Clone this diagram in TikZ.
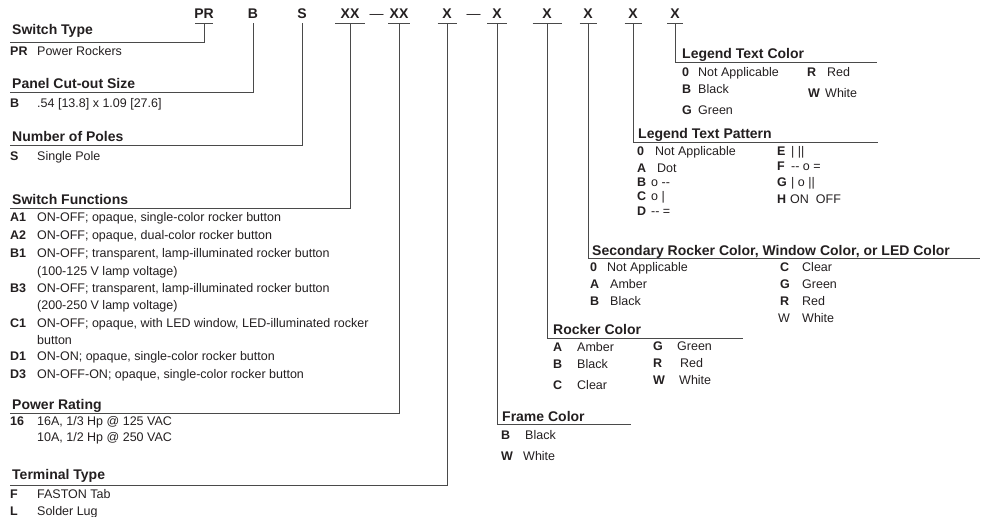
\documentclass[tikz,border=0pt]{standalone}
\usepackage{fontspec}
\setmainfont{Liberation Sans}
\definecolor{ink}{HTML}{231F20}
\definecolor{rule}{HTML}{4A4A4A}
% key in bold, set in a box of given width
\newcommand{\kb}[2][27]{\makebox[#1pt][l]{\bfseries #2}}
\begin{document}
\begin{tikzpicture}[x=1pt,y=-1pt,
    code/.style = {font=\fontsize{14}{16}\selectfont\bfseries, text=ink,
                   inner xsep=0pt, inner ysep=5pt, text depth=0pt, anchor=base},
    head/.style = {font=\fontsize{14}{16}\selectfont\bfseries, text=ink,
                   inner sep=0pt, anchor=base west},
    item/.style = {font=\fontsize{12.5}{15}\selectfont, text=ink,
                   inner sep=0pt, anchor=base west},
    lead/.style = {draw=rule, line width=0.8pt}]
\useasboundingbox (0,0) rectangle (986,517);

% part number codes
\foreach \n/\x/\t/\w in {PR/204/PR/9, B/253/B/0, S/302/S/0, XXa/350/XX/15,
        XXb/399/XX/11, Xa/447/X/9.5, Xb/497/X/10, Xc/547/X/14.5,
        Xd/588/X/8.5, Xe/633/X/8.5, Xf/675/X/8}{
    \node[code] (c\n) at (\x,18) {\t};
    \draw[lead] ([xshift=-\w]c\n.south) -- ([xshift=\w]c\n.south);
}
\node[code, font=\fontsize{14}{16}\selectfont] (dA) at (376.5,18) {—};
\node[code, font=\fontsize{14}{16}\selectfont] (dB) at (473.5,18) {—};

% left column
\node[head] (hST) at (12,34) {Switch Type};
\coordinate (eST) at (10,42);
\draw[lead] (cPR.south) |- (eST);
\node[item] (iPR) at (10,55) {\kb{PR}Power Rockers};

\node[head] (hPC) at (12,88) {Panel Cut-out Size};
\coordinate (ePC) at (10,92);
\draw[lead] (cB.south) |- (ePC);
\node[item] (iB) at (10,107) {\kb{B}.54 [13.8] x 1.09 [27.6]};

\node[head] (hNP) at (12,141) {Number of Poles};
\coordinate (eNP) at (10,145);
\draw[lead] (cS.south) |- (eNP);
\node[item] (iS) at (10,160) {\kb{S}Single Pole};

\node[head] (hSF) at (12,204) {Switch Functions};
\coordinate (eSF) at (10,208);
\draw[lead] (cXXa.south) |- (eSF);
\foreach \k/\t/\y [count=\i] in {
    A1/{ON-OFF; opaque, single-color rocker button}/221,
    A2/{ON-OFF; opaque, dual-color rocker button}/239,
    B1/{ON-OFF; transparent, lamp-illuminated rocker button}/257,
    {}/{(100-125 V lamp voltage)}/275,
    B3/{ON-OFF; transparent, lamp-illuminated rocker button}/292,
    {}/{(200-250 V lamp voltage)}/309,
    C1/{ON-OFF; opaque, with LED window, LED-illuminated rocker}/327,
    {}/{button}/344,
    D1/{ON-ON; opaque, single-color rocker button}/360,
    D3/{ON-OFF-ON; opaque, single-color rocker button}/378}
    \node[item] (sf\i) at (10,\y) {\kb{\k}\t};

\node[head] (hPW) at (12,409) {Power Rating};
\coordinate (ePW) at (10,413);
\draw[lead] (cXXb.south) |- (ePW);
\node[item] (pw1) at (10,425) {\kb{16}16A, 1/3 Hp @ 125 VAC};
\node[item] (pw2) at (10,441) {\kb{}10A, 1/2 Hp @ 250 VAC};

\node[head] (hTT) at (12,479) {Terminal Type};
\coordinate (eTT) at (10,485);
\draw[lead] (cXa.south) |- (eTT);
\node[item] (ttF) at (10,498) {\kb{F}FASTON Tab};
\node[item] (ttL) at (10,515) {\kb{L}Solder Lug};

% right side
\node[head] (hFC) at (502,421) {Frame Color};
\coordinate (eFC) at (631,424);
\draw[lead] (cXb.south) |- (eFC);
\node[item] (fcB) at (501,439) {\kb[24]{B}Black};
\node[item] (fcW) at (501,460) {\kb[22]{W}White};

\node[head] (hRC) at (553,334) {Rocker Color};
\coordinate (eRC) at (743,338);
\draw[lead] (cXc.south) |- (eRC);
\foreach \k/\t/\y in {A/Amber/351, B/Black/368, C/Clear/389}
    \node[item] (rc\k) at (553,\y) {\kb[24]{\k}\t};
\foreach \k/\t/\y/\o in {G/Green/350/24, R/Red/367/27, W/White/384/26}
    \node[item] (rc\k) at (653,\y) {\kb[\o]{\k}\t};

\node[head] (hSR) at (592,255) {Secondary Rocker Color, Window Color, or LED Color};
\coordinate (eSR) at (980,258);
\draw[lead] (cXd.south) |- (eSR);
\foreach \k/\t/\y/\o in {0/Not Applicable/271/17, A/Amber/288/20, B/Black/305/20}
    \node[item] (sr\k) at (590,\y) {\kb[\o]{\k}\t};
\foreach \k/\t/\y in {C/Clear/271, G/Green/288, R/Red/305}
    \node[item] (sr\k) at (780,\y) {\kb[22]{\k}\t};
\node[item] (srW) at (778,322) {\makebox[24pt][l]{W}White};

\node[head] (hLP) at (638,138) {Legend Text Pattern};
\coordinate (eLP) at (878,142);
\draw[lead] (cXe.south) |- (eLP);
\foreach \k/\t/\y/\o in {0/Not Applicable/155/18, A/Dot/172/20, B/{o -{}-}/186/14,
        C/{o |}/200/14, D/{-{}- =}/215/14}
    \node[item] (lp\k) at (637,\y) {\kb[\o]{\k}\t};
\foreach \k/\t/\y/\o in {E/{| ||}/155/14, F/{-{}- o =}/170/14, G/{| o ||}/186/14,
        H/{ON\ \ OFF}/203/13}
    \node[item] (lp\k) at (777,\y) {\kb[\o]{\k}\t};

\node[head] (hLC) at (682,58) {Legend Text Color};
\coordinate (eLC) at (877,62);
\draw[lead] (cXf.south) |- (eLC);
\foreach \k/\t/\y in {0/Not Applicable/76, B/Black/93, G/Green/114}
    \node[item] (lc\k) at (682,\y) {\kb[16]{\k}\t};
\node[item] (lcR) at (807,76) {\kb[20]{R}Red};
\node[item] (lcW) at (808,97) {\kb[17]{W}White};
\end{tikzpicture}
\end{document}
